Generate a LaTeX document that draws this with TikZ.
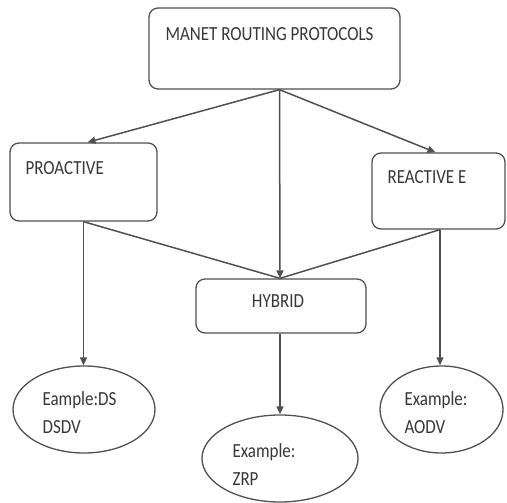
\documentclass[tikz,border=0pt]{standalone}
\usepackage{fontspec}
\setmainfont{Carlito}[FakeStretch=0.85]
\usetikzlibrary{shapes.geometric, arrows.meta, positioning}
\definecolor{linegray}{RGB}{80,80,80}
\definecolor{textgray}{RGB}{55,55,55}

\begin{document}
\begin{tikzpicture}[x=1pt, y=-1pt,
    box/.style={draw=linegray, line width=1.3pt, rounded corners=9pt, inner sep=0pt},
    oval/.style={draw=linegray, line width=1.3pt, ellipse, inner sep=0pt},
    txt/.style={text=textgray, font=\fontsize{20}{28}\selectfont, inner sep=0pt, align=left},
    link/.style={draw=linegray, line width=1.5pt},
    arr/.style={link, -{Triangle[length=8pt, width=7pt]}}]
    \useasboundingbox (0,0) rectangle (507,503);

    % Boxes
    \node[box, minimum width=251pt, minimum height=81pt,
          label={[txt, anchor=base west, xshift=17pt, yshift=-33pt]north west:MANET ROUTING PROTOCOLS}]
          (manet) at (274.5,48.5) {};
    \node[box, minimum width=147pt, minimum height=78pt,
          label={[txt, anchor=base west, xshift=16pt, yshift=-32pt]north west:PROACTIVE}]
          (proactive) at (83.5,182) {};
    \node[box, minimum width=133pt, minimum height=76pt,
          label={[txt, anchor=base west, xshift=16pt, yshift=-31pt]north west:REACTIVE E}]
          (reactive) at (438.5,191) {};
    \node[box, minimum width=170pt, minimum height=54pt,
          label={[txt, anchor=base, xshift=-3pt, yshift=-29pt]north:HYBRID}]
          (hybrid) at (281,306) {};

    % Examples
    \node[oval, minimum width=142pt, minimum height=87pt,
          label={[txt, anchor=base west, xshift=30pt, yshift=-23.5pt]west:{Eample:DS\\DSDV}}]
          (dsdv) at (84,409.5) {};
    \node[oval, minimum width=156pt, minimum height=87pt,
          label={[txt, anchor=base west, xshift=31pt, yshift=-26.5pt]west:{Example:\\ZRP}}]
          (zrp) at (280,458.5) {};
    \node[oval, minimum width=123pt, minimum height=87pt,
          label={[txt, anchor=base west, xshift=25pt, yshift=-23.5pt]west:{Example:\\AODV}}]
          (aodv) at (441.5,409.5) {};

    % Links
    \draw[arr] ([xshift=5pt]manet.south) -- ([xshift=4pt]proactive.north);
    \draw[arr] ([xshift=5pt]manet.south) -- ([xshift=-1pt]hybrid.north);
    \draw[arr] ([xshift=5pt]manet.south) -- ([xshift=-3pt]reactive.north);
    \draw[link] (proactive.south) -- ([xshift=-1pt]hybrid.north);
    \draw[link] ([xshift=1.5pt]reactive.south) -- ([xshift=-1pt]hybrid.north);
    \draw[arr] (proactive.south) -- (proactive.south |- dsdv.north);
    \draw[arr] ([xshift=-1pt]hybrid.south) -- ([xshift=-1pt]hybrid.south |- zrp.north);
    \draw[arr] ([xshift=1.5pt]reactive.south) -- ([xshift=1.5pt]reactive.south |- aodv.north);
\end{tikzpicture}
\end{document}
